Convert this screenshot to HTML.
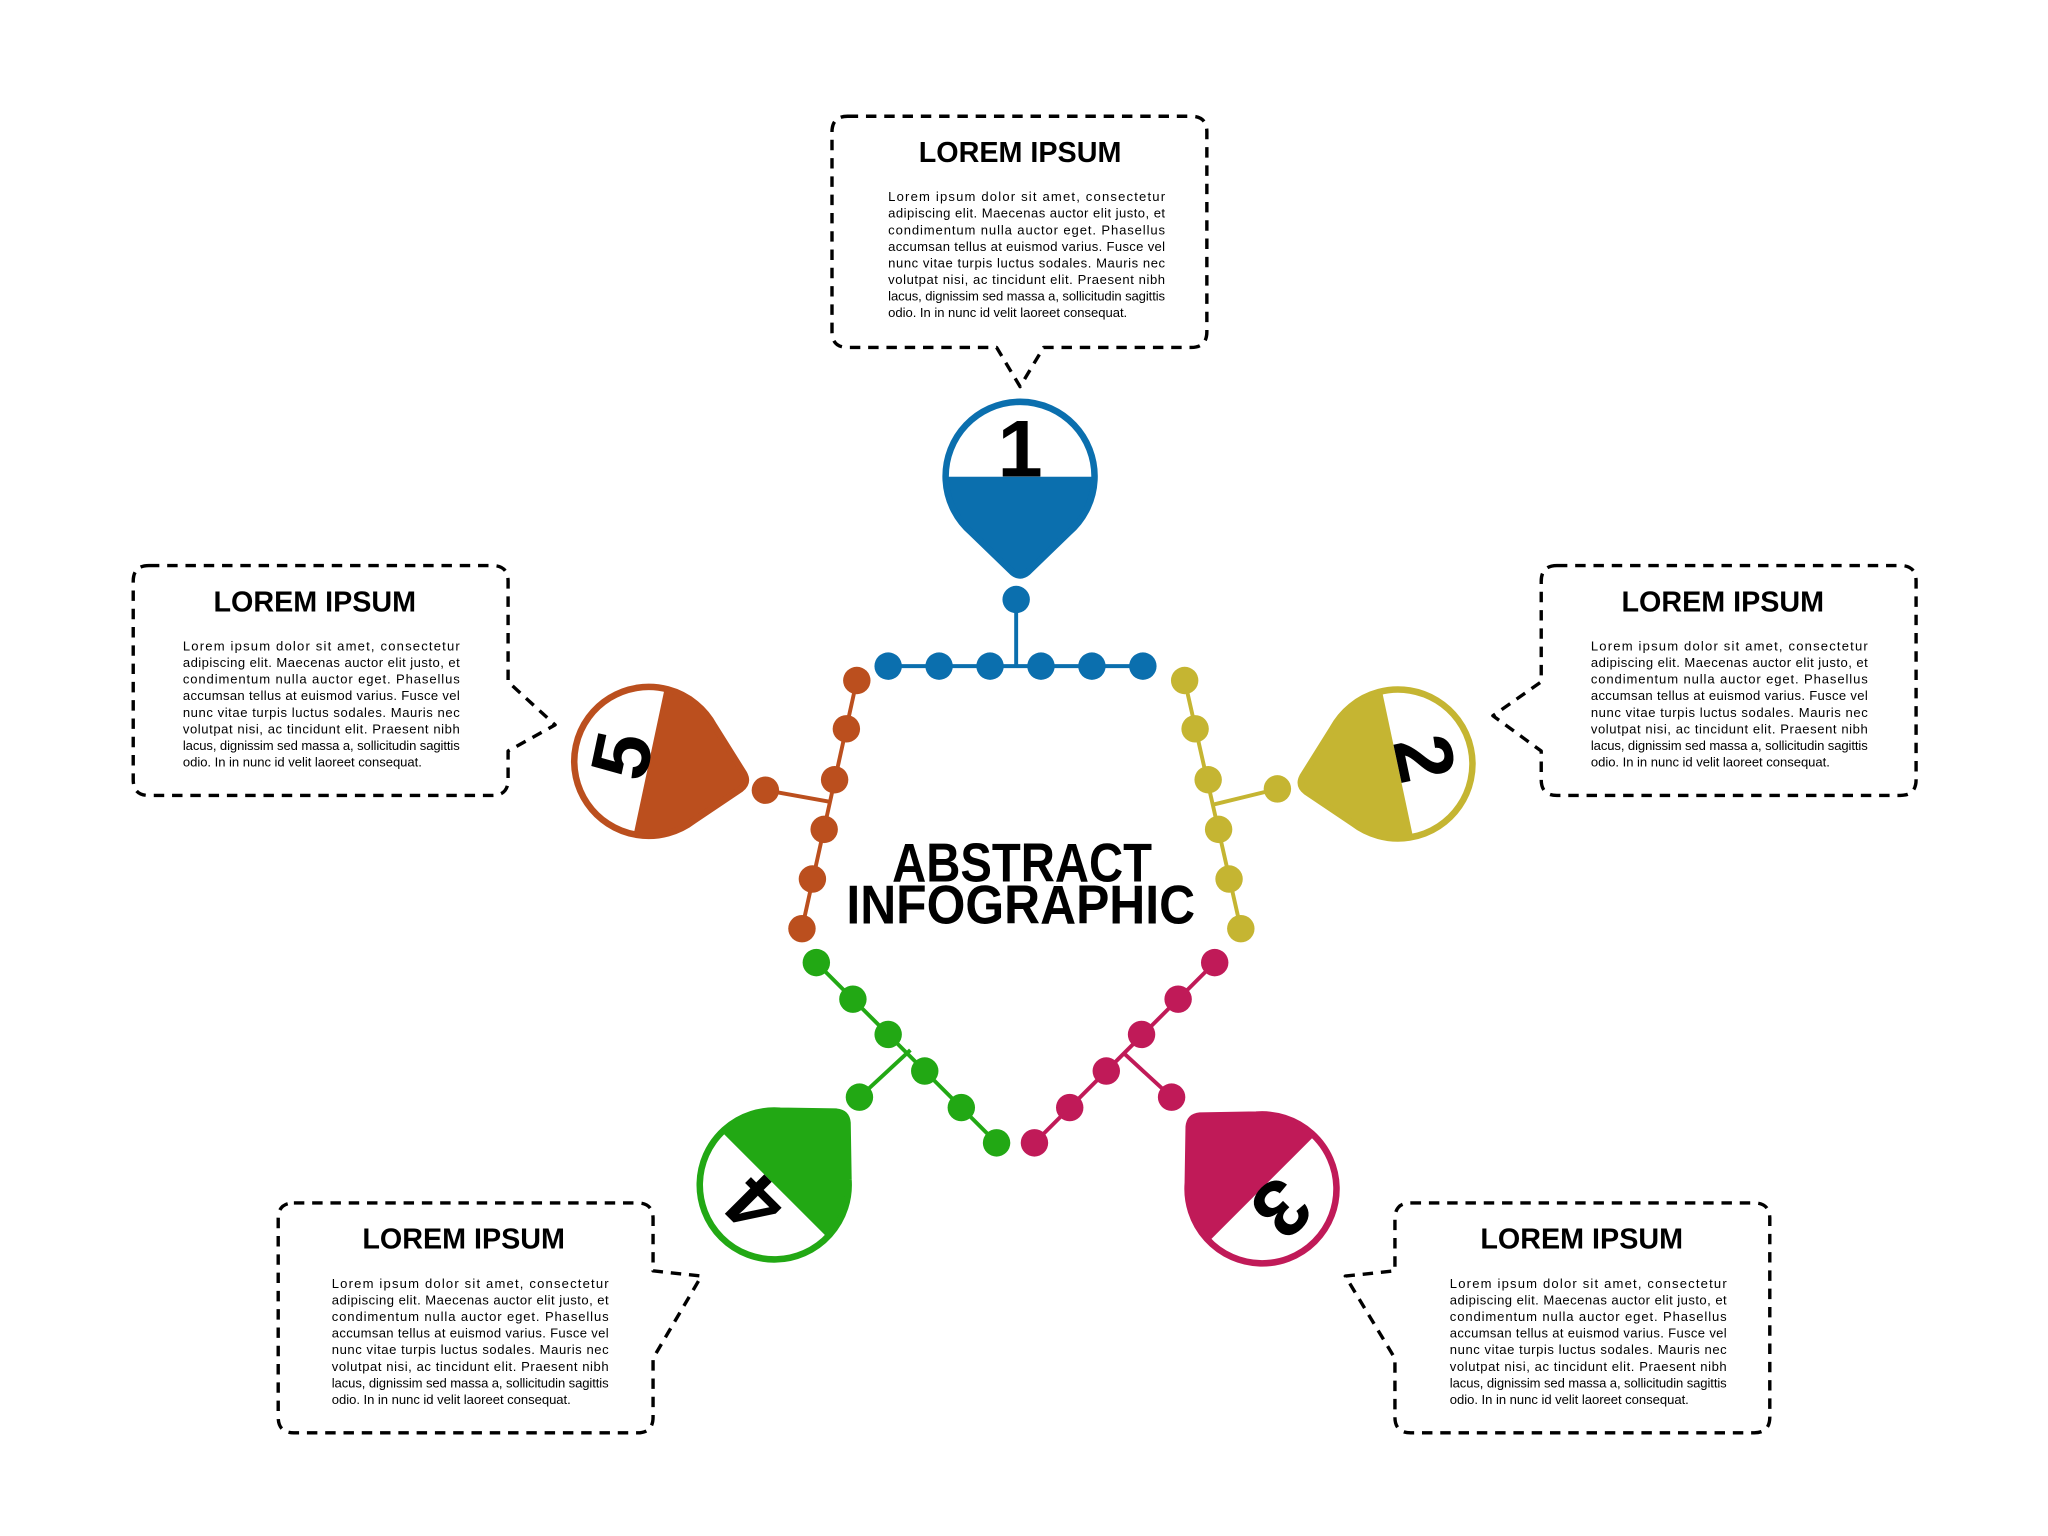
<!DOCTYPE html>
<html><head><meta charset="utf-8"><style>
html,body{margin:0;padding:0;background:#fff;}
svg{display:block;}
.t{font-family:"Liberation Sans",sans-serif;font-weight:bold;font-size:22px;text-anchor:middle;fill:#000;}
.b{font-family:"Liberation Sans",sans-serif;font-size:10px;fill:#000;}
.box{fill:none;stroke:#000;stroke-width:2.6;stroke-dasharray:8 6;stroke-linejoin:round;}
.num{font-family:"Liberation Sans",sans-serif;font-weight:bold;font-size:62px;text-anchor:middle;fill:#000;}
</style></head><body>
<svg width="2048" height="1536" viewBox="0 0 1568 1176" xmlns="http://www.w3.org/2000/svg">
<defs>
<path id="pin" d="M -37 43 A 57 57 0 1 1 37 43 L 6 73 Q 0 78 -6 73 Z"/>
<clipPath id="pc"><use href="#pin"/></clipPath>
<g id="txt">
<text class="t" x="144" y="35">LOREM IPSUM</text>
<text class="b" x="43" y="65" textLength="212" lengthAdjust="spacing">Lorem ipsum dolor sit amet, consectetur</text>
<text class="b" x="43" y="77.7" textLength="212" lengthAdjust="spacing">adipiscing elit. Maecenas auctor elit justo, et</text>
<text class="b" x="43" y="90.4" textLength="212" lengthAdjust="spacing">condimentum nulla auctor eget. Phasellus</text>
<text class="b" x="43" y="103.1" textLength="212" lengthAdjust="spacing">accumsan tellus at euismod varius. Fusce vel</text>
<text class="b" x="43" y="115.8" textLength="212" lengthAdjust="spacing">nunc vitae turpis luctus sodales. Mauris nec</text>
<text class="b" x="43" y="128.5" textLength="212" lengthAdjust="spacing">volutpat nisi, ac tincidunt elit. Praesent nibh</text>
<text class="b" x="43" y="141.2" textLength="212" lengthAdjust="spacing">lacus, dignissim sed massa a, sollicitudin sagittis</text>
<text class="b" x="43" y="153.9" textLength="183" lengthAdjust="spacing">odio. In in nunc id velit laoreet consequat.</text>
</g>
</defs>

<path class="box" d="M649 89 H912 Q924 89 924 101 V254 Q924 266 912 266 H799 L781 296 L763 266 H649 Q637 266 637 254 V101 Q637 89 649 89 Z"/>
<use href="#txt" transform="translate(637,89)"/>

<path class="box" d="M114 433 H377 Q389 433 389 445 V522 L425 555 L389 575 V597 Q389 609 377 609 H114 Q102 609 102 597 V445 Q102 433 114 433 Z"/>
<use href="#txt" transform="translate(97,433)"/>

<path class="box" d="M1192 433 H1455 Q1467 433 1467 445 V597 Q1467 609 1455 609 H1192 Q1180 609 1180 597 V575 L1143 548 L1180 522 V445 Q1180 433 1192 433 Z"/>
<use href="#txt" transform="translate(1175,433)"/>

<path class="box" d="M225 921 H488 Q500 921 500 933 V973 L537 977 L500 1040 V1085 Q500 1097 488 1097 H225 Q213 1097 213 1085 V933 Q213 921 225 921 Z"/>
<use href="#txt" transform="translate(211,921)"/>

<path class="box" d="M1080 921 H1343 Q1355 921 1355 933 V1085 Q1355 1097 1343 1097 H1080 Q1068 1097 1068 1085 V1040 L1030 977 L1068 973 V933 Q1068 921 1080 921 Z"/>
<use href="#txt" transform="translate(1067,921)"/>

<g stroke-width="3" fill="none">
<polyline stroke="#0b6fae" points="680,510 875,510"/>
<line stroke="#0b6fae" x1="778" y1="459" x2="778" y2="510"/>
<polyline stroke="#bb4f1e" points="656,521 614,711"/>
<line stroke="#bb4f1e" x1="636" y1="614" x2="586" y2="605"/>
<polyline stroke="#c5b532" points="907,521 950,711"/>
<line stroke="#c5b532" x1="929" y1="616" x2="978" y2="604"/>
<polyline stroke="#22a814" points="625,737 763,875"/>
<line stroke="#22a814" x1="697" y1="804" x2="658" y2="840"/>
<polyline stroke="#c01a58" points="930,737 792,875"/>
<line stroke="#c01a58" x1="860" y1="806" x2="897" y2="840"/>
</g>
<g fill="#0b6fae"><circle cx="778" cy="459" r="10.5"/><circle cx="680" cy="510" r="10.5"/><circle cx="719" cy="510" r="10.5"/><circle cx="758" cy="510" r="10.5"/><circle cx="797" cy="510" r="10.5"/><circle cx="836" cy="510" r="10.5"/><circle cx="875" cy="510" r="10.5"/></g>
<g fill="#bb4f1e"><circle cx="656" cy="521" r="10.5"/><circle cx="648" cy="558" r="10.5"/><circle cx="639" cy="597" r="10.5"/><circle cx="631" cy="635" r="10.5"/><circle cx="622" cy="673" r="10.5"/><circle cx="614" cy="711" r="10.5"/><circle cx="586" cy="605" r="10.5"/></g>
<g fill="#c5b532"><circle cx="907" cy="521" r="10.5"/><circle cx="915" cy="558" r="10.5"/><circle cx="925" cy="597" r="10.5"/><circle cx="933" cy="635" r="10.5"/><circle cx="941" cy="673" r="10.5"/><circle cx="950" cy="711" r="10.5"/><circle cx="978" cy="604" r="10.5"/></g>
<g fill="#22a814"><circle cx="625" cy="737" r="10.5"/><circle cx="653" cy="765" r="10.5"/><circle cx="680" cy="792" r="10.5"/><circle cx="708" cy="820" r="10.5"/><circle cx="736" cy="848" r="10.5"/><circle cx="763" cy="875" r="10.5"/><circle cx="658" cy="840" r="10.5"/></g>
<g fill="#c01a58"><circle cx="930" cy="737" r="10.5"/><circle cx="902" cy="765" r="10.5"/><circle cx="874" cy="792" r="10.5"/><circle cx="847" cy="820" r="10.5"/><circle cx="819" cy="848" r="10.5"/><circle cx="792" cy="875" r="10.5"/><circle cx="897" cy="840" r="10.5"/></g>

<g transform="translate(781,365)">
<use href="#pin" fill="#0b6fae"/>
<rect x="-70" y="-70" width="140" height="70" fill="#fff" clip-path="url(#pc)"/>
<use href="#pin" fill="none" stroke="#0b6fae" stroke-width="5"/>
<text class="num" x="0" y="0">1</text>
</g>
<g transform="translate(1070,585) rotate(78)">
<use href="#pin" fill="#c5b532"/>
<rect x="-70" y="-70" width="140" height="70" fill="#fff" clip-path="url(#pc)"/>
<use href="#pin" fill="none" stroke="#c5b532" stroke-width="5"/>
<text class="num" x="0" y="0">2</text>
</g>
<g transform="translate(497,583) rotate(-78)">
<use href="#pin" fill="#bb4f1e"/>
<rect x="-70" y="-70" width="140" height="70" fill="#fff" clip-path="url(#pc)"/>
<use href="#pin" fill="none" stroke="#bb4f1e" stroke-width="5"/>
<text class="num" x="0" y="0">5</text>
</g>
<g transform="translate(593,907) rotate(-135)">
<use href="#pin" fill="#22a814"/>
<rect x="-70" y="-70" width="140" height="70" fill="#fff" clip-path="url(#pc)"/>
<use href="#pin" fill="none" stroke="#22a814" stroke-width="5"/>
<text class="num" x="0" y="0">4</text>
</g>
<g transform="translate(966,910) rotate(135)">
<use href="#pin" fill="#c01a58"/>
<rect x="-70" y="-70" width="140" height="70" fill="#fff" clip-path="url(#pc)"/>
<use href="#pin" fill="none" stroke="#c01a58" stroke-width="5"/>
<text class="num" x="0" y="0">3</text>
</g>

<text x="683" y="675" textLength="199" lengthAdjust="spacingAndGlyphs" style="font-family:'Liberation Sans',sans-serif;font-weight:bold;font-size:42px;fill:#000;">ABSTRACT</text>
<text x="648" y="707" textLength="267" lengthAdjust="spacingAndGlyphs" style="font-family:'Liberation Sans',sans-serif;font-weight:bold;font-size:42px;fill:#000;">INFOGRAPHIC</text>
</svg>
</body></html>
